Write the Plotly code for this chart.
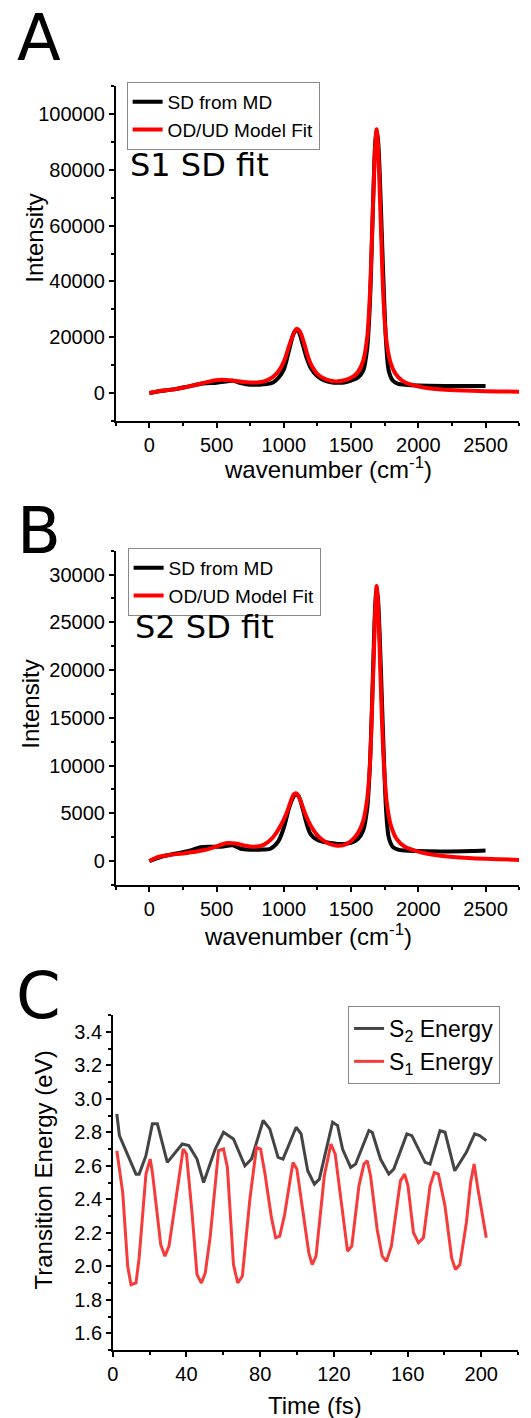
import plotly.graph_objects as go

# panel A - S1 spectral density
a_md_x = [0, 100, 200, 300, 400, 500, 580, 620, 680, 750, 820, 870, 920, 960, 1000, 1040, 1070, 1090, 1110, 1140,
          1170, 1200, 1250, 1300, 1350, 1400, 1450, 1500, 1550, 1590, 1620, 1640, 1655, 1670, 1680, 1690, 1700, 1712,
          1728, 1745, 1762, 1780, 1810, 1850, 1900, 2000, 2200, 2500]
a_md_y = [0, 800, 1500, 2500, 3400, 3700, 4200, 4400, 3600, 3000, 3000, 3200, 3800, 5500, 8500, 15500, 21000, 22500,
          22000, 17500, 12500, 9000, 6000, 4500, 3900, 3700, 3800, 4500, 5500, 8000, 16000, 32000, 54000, 78000, 90000,
          94000, 91000, 80000, 58000, 35000, 17000, 8000, 4500, 3300, 3000, 2700, 2550, 2500]
a_fit_x = [0, 50, 100, 200, 300, 400, 480, 540, 600, 700, 800, 860, 920, 970, 1010, 1040, 1070, 1090, 1100, 1120,
           1150, 1180, 1210, 1250, 1300, 1350, 1400, 1450, 1500, 1550, 1590, 1620, 1640, 1655, 1670, 1680, 1690, 1700,
           1710, 1725, 1740, 1760, 1790, 1830, 1880, 1950, 2050, 2200, 2400, 2600, 2750]
a_fit_y = [0, 500, 900, 1500, 2400, 3600, 4500, 4800, 4600, 4000, 3800, 4300, 5800, 8500, 12500, 17000, 21000, 22800,
           23000, 22000, 18000, 13000, 9500, 6800, 5200, 4400, 4200, 4600, 5500, 7500, 11500, 20000, 35000, 55000,
           77000, 89000, 94500, 89000, 77000, 55000, 35000, 20000, 11500, 7000, 4500, 3000, 1900, 1200, 800, 600, 480]

# panel B - S2 spectral density
b_md_x = [0, 100, 200, 300, 380, 450, 520, 580, 620, 680, 750, 820, 900, 960, 1000, 1040, 1070, 1090, 1110, 1140,
          1170, 1200, 1250, 1300, 1350, 1400, 1450, 1500, 1550, 1590, 1620, 1640, 1655, 1670, 1680, 1690, 1700, 1712,
          1728, 1745, 1762, 1780, 1810, 1850, 1900, 2000, 2200, 2400, 2500]
b_md_y = [0, 500, 800, 1100, 1450, 1500, 1500, 1600, 1650, 1300, 1200, 1200, 1300, 2100, 3500, 5600, 6700, 7000, 6800,
          5500, 3900, 2800, 2200, 2000, 1900, 1800, 1800, 1900, 2300, 3200, 5500, 10000, 16000, 23000, 26800, 28500,
          27500, 24000, 17500, 10500, 5000, 2500, 1500, 1200, 1100, 1050, 1000, 1050, 1100]
b_fit_x = [0, 40, 80, 150, 250, 350, 450, 520, 580, 640, 700, 780, 850, 920, 980, 1020, 1050, 1075, 1090, 1105, 1130,
           1160, 1200, 1250, 1300, 1350, 1400, 1450, 1500, 1550, 1590, 1620, 1640, 1655, 1670, 1680, 1690, 1700, 1712,
           1728, 1745, 1765, 1795, 1840, 1900, 2000, 2100, 2200, 2400, 2600, 2750]
b_fit_y = [0, 300, 480, 650, 800, 1000, 1300, 1650, 1900, 1850, 1650, 1500, 1700, 2500, 3800, 5000, 6200, 7000, 7100,
           6900, 6100, 4900, 3700, 2700, 2100, 1750, 1600, 1700, 2100, 2900, 4200, 6500, 10000, 15500, 22000, 26500,
           28800, 27000, 22500, 15500, 10000, 6200, 3800, 2300, 1500, 1000, 700, 500, 300, 200, 130]

# panel C - transition energies along the trajectory
s2_t = [2.2, 3.6, 12.6, 14.3, 18, 21.5, 24.2, 29.6, 37.7, 41.3, 45.7, 49.3, 55.6, 60.1, 65.5, 71.7, 75.3, 81.6, 85.2,
        89.7, 92.4, 99.5, 102.2, 105.8, 109.4, 112.1, 119.3, 122, 124.7, 129.1, 131.8, 139, 140.8, 145.3, 149.8, 152.5,
        159.6, 162.3, 169.5, 172.2, 177.6, 180.3, 185.6, 191.9, 196.4, 199.1, 202.7]
s2_e = [2.91, 2.78, 2.55, 2.55, 2.66, 2.85, 2.85, 2.62, 2.73, 2.72, 2.64, 2.50, 2.70, 2.80, 2.76, 2.60, 2.64, 2.87,
        2.82, 2.65, 2.64, 2.83, 2.79, 2.57, 2.49, 2.52, 2.86, 2.84, 2.70, 2.59, 2.61, 2.81, 2.80, 2.64, 2.55, 2.58,
        2.79, 2.78, 2.62, 2.61, 2.81, 2.80, 2.57, 2.68, 2.79, 2.78, 2.75]
s1_t = [2.2, 5.4, 8.1, 9.9, 12.6, 14.3, 18, 20.3, 21.5, 24.2, 26, 28.3, 30.5, 33.2, 38.2, 40, 43, 45.7, 48.1, 50.2,
        52.9, 57.4, 60.1, 62.2, 65.5, 67.8, 70.3, 74.4, 78, 80.2, 82.5, 86.1, 88.4, 90.6, 93.3, 96.3, 97.8, 99.9, 103.1,
        106.4, 108.2, 110.3, 114.8, 118.4, 120.7, 124.7, 127.4, 129.7, 133.6, 136.3, 138.1, 139.9, 143.5, 146.2,
        148.5, 151.2, 156.1, 158.4, 160.2, 163.2, 165.9, 168.6, 172.2, 174.5, 176.7, 180.3, 183.9, 186, 188.4, 191.9,
        194.2, 196.1, 198.2, 202.7]
s1_e = [2.69, 2.44, 2.00, 1.89, 1.90, 2.05, 2.55, 2.64, 2.56, 2.30, 2.13, 2.06, 2.12, 2.32, 2.70, 2.67, 2.32, 1.95,
        1.90, 1.96, 2.18, 2.69, 2.70, 2.59, 2.01, 1.90, 1.94, 2.40, 2.71, 2.70, 2.56, 2.29, 2.17, 2.18, 2.31, 2.52,
        2.62, 2.58, 2.32, 2.08, 2.01, 2.06, 2.54, 2.73, 2.67, 2.32, 2.09, 2.12, 2.48, 2.61, 2.63, 2.54, 2.22, 2.06,
        2.03, 2.12, 2.51, 2.55, 2.48, 2.20, 2.14, 2.17, 2.48, 2.56, 2.55, 2.36, 2.05, 1.98, 2.01, 2.26, 2.50, 2.61,
        2.46, 2.17]

W, H = 531, 1418
tickfont = dict(family="Liberation Sans, Arial", size=20, color="black")


def px(x):
    return x / W


def py(y):
    return 1 - y / H


def axis(dom, anchor, rng, dtick, minor, **kw):
    return dict(domain=dom, anchor=anchor, range=rng, dtick=dtick, showline=True, linecolor="black", linewidth=1.5,
                ticks="outside", ticklen=5, tickwidth=1.5, tickcolor="black", showgrid=False, zeroline=False,
                tickfont=tickfont, minor=dict(ticks="outside", ticklen=3, tickwidth=1.5, tickcolor="black",
                                              dtick=minor, showgrid=False), **kw)


fig = go.Figure()
fig.add_trace(go.Scatter(x=a_md_x, y=a_md_y, name="SD from MD", mode="lines", line=dict(color="black", width=4, shape="spline", smoothing=0.8), xaxis="x", yaxis="y", legend="legend"))
fig.add_trace(go.Scatter(x=a_fit_x, y=a_fit_y, name="OD/UD Model Fit", mode="lines", line=dict(color="#ff0000", width=4, shape="spline", smoothing=0.8), xaxis="x", yaxis="y", legend="legend"))
fig.add_trace(go.Scatter(x=b_md_x, y=b_md_y, name="SD from MD", mode="lines", line=dict(color="black", width=4, shape="spline", smoothing=0.8), xaxis="x2", yaxis="y2", legend="legend2"))
fig.add_trace(go.Scatter(x=b_fit_x, y=b_fit_y, name="OD/UD Model Fit", mode="lines", line=dict(color="#ff0000", width=4, shape="spline", smoothing=0.8), xaxis="x2", yaxis="y2", legend="legend2"))
fig.add_trace(go.Scatter(x=s2_t, y=s2_e, name="S<sub>2</sub> Energy", mode="lines", line=dict(color="#444444", width=3), xaxis="x3", yaxis="y3", legend="legend3"))
fig.add_trace(go.Scatter(x=s1_t, y=s1_e, name="S<sub>1</sub> Energy", mode="lines", line=dict(color="#f63b3b", width=3), xaxis="x3", yaxis="y3", legend="legend3"))

xa = [px(111), px(519)]
xc = [px(108), px(518)]
leg = dict(bgcolor="rgba(255,255,255,0)", bordercolor="#888888", borderwidth=1, xanchor="left", yanchor="top",
           font=dict(family="Liberation Sans, Arial", size=19, color="black"), tracegroupgap=0)

fig.update_layout(
    width=W, height=H, margin=dict(l=0, r=0, t=0, b=0),
    paper_bgcolor="white", plot_bgcolor="white",
    xaxis=axis(xa, "y", [-250, 2750], 500, 250),
    yaxis=axis([py(421), py(86)], "x", [-10000, 110000], 20000, 10000, tickformat="d"),
    xaxis2=axis(xa, "y2", [-250, 2750], 500, 250),
    yaxis2=axis([py(885), py(550.7)], "x2", [-2500, 32500], 5000, 2500, tickformat="d"),
    xaxis3=axis(xc, "y3", [0, 220], 40, 20),
    yaxis3=axis([py(1350), py(1015)], "x3", [1.5, 3.5], 0.2, 0.1, tickformat=".1f"),
    legend=dict(leg, x=px(122), y=py(82)),
    legend2=dict(leg, x=px(123), y=py(548)),
    legend3=dict(leg, x=px(346), y=py(1006), font=dict(family="Liberation Sans, Arial", size=23, color="black")),
)

title_font = dict(family="Liberation Sans, Arial", size=24, color="black")
labels = [
    ("A", 33, 38, dict(family="DejaVu Sans", size=64, color="black"), 0),
    ("B", 33, 531, dict(family="DejaVu Sans", size=64, color="black"), 0),
    ("C", 33, 996, dict(family="DejaVu Sans", size=64, color="black"), 0),
    ("wavenumber (cm<sup>-1</sup>)", 326, 468, title_font, 0),
    ("wavenumber (cm<sup>-1</sup>)", 305, 935, title_font, 0),
    ("Time (fs)", 313, 1405, title_font, 0),
    ("Intensity", 29, 238, title_font, -90),
    ("Intensity", 24, 704, title_font, -90),
    ("Transition Energy (eV)", 37, 1170, title_font, -90),
]
for text, x, y, f, ang in labels:
    fig.add_annotation(text=text, x=px(x), y=py(y), xref="paper", yref="paper", xanchor="center", yanchor="middle",
                       showarrow=False, font=f, textangle=ang)

for text, x, y in [("S1 SD fit", 123, 165), ("S2 SD fit", 128, 627)]:
    fig.add_annotation(text=text, x=px(x), y=py(y), xref="paper", yref="paper", xanchor="left", yanchor="middle",
                       showarrow=False, font=dict(family="DejaVu Sans", size=32, color="black"))

# drop the default page margin so the figure sits at the window's corner
fig.write_html("out.html", config={"displayModeBar": False},
               post_script="document.body.style.margin='0px';")
